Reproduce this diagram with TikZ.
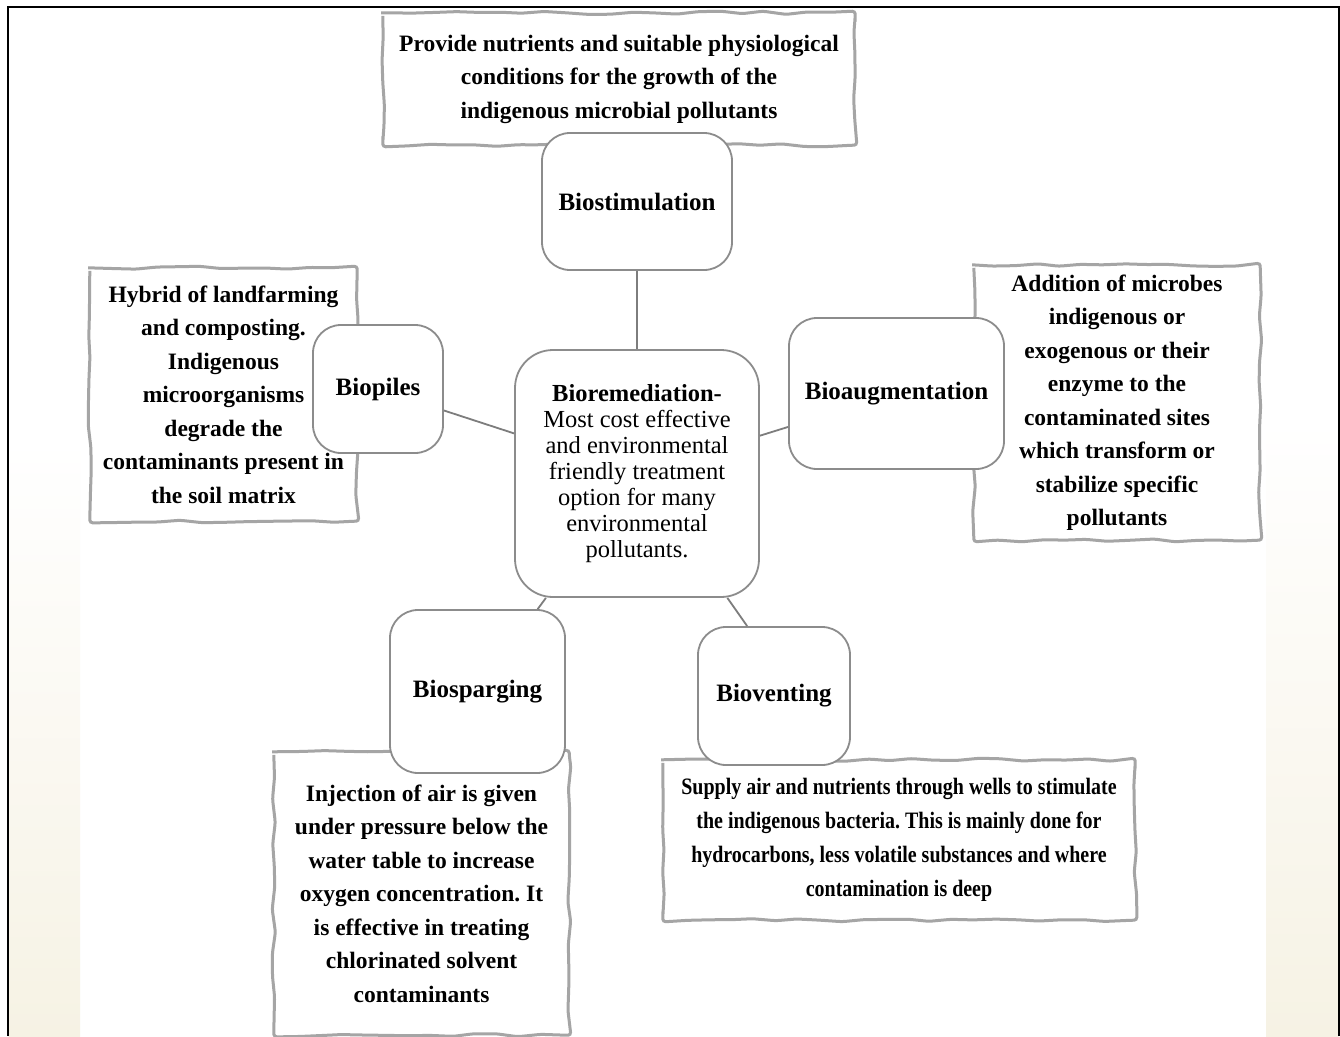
\documentclass[tikz,border=0pt]{standalone}
\usepackage{fontspec}
\setmainfont{Liberation Serif}
\newfontfamily\condserif[FakeStretch=0.85]{Liberation Serif}
\usetikzlibrary{decorations.pathmorphing}
\pgfdeclarelayer{background}
\pgfsetlayers{background,main}
\definecolor{framegray}{RGB}{165,165,165}
\definecolor{boxgray}{RGB}{140,140,140}
\definecolor{linkgray}{RGB}{125,125,125}
\definecolor{beige}{RGB}{246,242,228}
\frenchspacing
\begin{document}
\begin{tikzpicture}[x=1pt,y=-1pt,
  topic/.style={draw=boxgray, line width=1.8pt, fill=white, rounded corners=28pt,
    inner sep=0pt, align=center, font={\fontsize{25}{28}\selectfont\bfseries}},
  desc/.style={inner sep=0pt, align=center, font={\frenchspacing\fontsize{23.5}{33.5}\selectfont\bfseries}},
  frame/.style={draw=framegray, line width=3pt, decorate,
    decoration={random steps, segment length=22pt, amplitude=1.6pt}, rounded corners=3pt},
  link/.style={draw=linkgray, line width=1.8pt}]
\pgfmathsetseed{7}
\useasboundingbox (0,0) rectangle (1340,1036);

% topic boxes
\node[topic, minimum width=190pt, minimum height=137pt] (biostim) at (637,201.5) {Biostimulation};
\node[topic, rounded corners=38pt, minimum width=244pt, minimum height=247pt,
  font={\fontsize{24.5}{26}\selectfont}] (centre) at (637,473.5)
  {\textbf{Bioremediation-}\\Most cost effective\\and environmental\\friendly treatment\\option for many\\environmental\\pollutants.};
\node[topic, minimum width=130pt, minimum height=128pt] (biopiles) at (378,389) {Biopiles};
\node[topic, minimum width=215pt, minimum height=151pt] (bioaug) at (896.5,393.5) {Bioaugmentation};
\node[topic, minimum width=175pt, minimum height=163pt] (biospar) at (477.5,691.5) {Biosparging};
\node[topic, minimum width=152pt, minimum height=138pt] (biovent) at (774,696) {Bioventing};

% descriptions
\node[desc, minimum width=472pt, minimum height=132pt] (dtop) at (619,79)
  {Provide nutrients and suitable physiological\\conditions for the growth of the\\indigenous microbial pollutants};
\node[desc, minimum width=267pt, minimum height=253pt] (dpiles) at (223.5,394.5)
  {Hybrid of landfarming\\and composting.\\Indigenous\\microorganisms\\degrade the\\contaminants present in\\the soil matrix};
\node[desc, minimum width=286pt, minimum height=275pt] (daug) at (1117,402.5)
  {Addition of microbes\\indigenous or\\exogenous or their\\enzyme to the\\contaminated sites\\which transform or\\stabilize specific\\pollutants};
\node[desc, minimum width=295pt, minimum height=283pt] (dspar) at (421.5,893.5)
  {Injection of air is given\\under pressure below the\\water table to increase\\oxygen concentration. It\\is effective in treating\\chlorinated solvent\\contaminants};
\node[desc, minimum width=472pt, minimum height=160pt,
  font={\condserif\frenchspacing\fontsize{23.5}{34}\selectfont\bfseries}] (dvent) at (899,840)
  {Supply air and nutrients through wells to stimulate\\the indigenous bacteria. This is mainly done for\\hydrocarbons, less volatile substances and where\\contamination is deep};

% connectors
\draw[link] (biostim) -- (centre);
\draw[link] (biopiles) -- (centre);
\draw[link] (bioaug) -- (centre);
\draw[link] (centre) -- (biospar);
\draw[link] (centre.-54) -- (biovent.111);

\begin{pgfonlayer}{background}
  \fill[white] (0,0) rectangle (1340,1036);
  \shade[top color=white, bottom color=beige] (8,440) rectangle (80,1036);
  \shade[top color=white, bottom color=beige] (1266,420) rectangle (1339,1036);
  \draw[black, line width=2pt] (8,1036) -- (8,7) -- (1339,7) -- (1339,1036);
  \draw[frame] (dtop.north west) rectangle (dtop.south east);
  \draw[frame] (dpiles.north west) rectangle (dpiles.south east);
  \draw[frame] (daug.north west) rectangle (daug.south east);
  \draw[frame] (dspar.north west) rectangle (dspar.south east);
  \draw[frame] (dvent.north west) rectangle (dvent.south east);
\end{pgfonlayer}
\end{tikzpicture}
\end{document}
